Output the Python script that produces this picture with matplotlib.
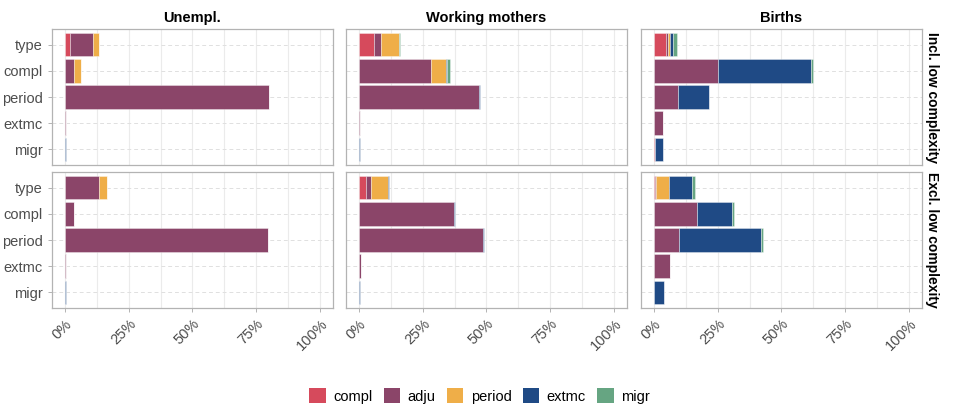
import numpy as np
import matplotlib as mpl
mpl.use('Agg')
import matplotlib.pyplot as plt
from matplotlib.patches import Patch

mpl.rcParams['font.family'] = 'Liberation Sans'

categories = ['type', 'compl', 'period', 'extmc', 'migr']
components = ['compl', 'adju', 'period', 'extmc', 'migr']
colors = ['#D64A5C', '#8B4569', '#EFAE48', '#1F4A85', '#66A582']
col_titles = ['Unempl.', 'Working mothers', 'Births']
row_titles = ['Incl. low complexity', 'Excl. low complexity']

# rows = categories, columns = components (compl, adju, period, extmc, migr), in %
unempl_incl = [[2.0, 9.1, 2.2, 0.0, 0.0],
               [0.0, 3.5, 3.0, 0.0, 0.0],
               [0.0, 79.8, 0.0, 0.0, 0.0],
               [0.0, 0.3, 0.0, 0.0, 0.0],
               [0.0, 0.0, 0.0, 0.3, 0.0]]
mothers_incl = [[6.1, 2.7, 6.8, 0.3, 0.3],
                [0.0, 28.4, 5.6, 0.7, 1.2],
                [0.0, 46.9, 0.0, 0.4, 0.3],
                [0.0, 0.5, 0.0, 0.0, 0.0],
                [0.0, 0.0, 0.0, 0.3, 0.0]]
births_incl = [[4.8, 0.8, 0.9, 0.9, 1.6],
               [0.0, 25.0, 0.2, 36.2, 0.9],
               [0.0, 9.5, 0.0, 12.0, 0.2],
               [0.0, 3.6, 0.0, 0.0, 0.0],
               [0.4, 0.0, 0.0, 3.4, 0.0]]
unempl_excl = [[0.0, 13.3, 3.4, 0.0, 0.0],
               [0.0, 3.7, 0.0, 0.0, 0.0],
               [0.0, 79.5, 0.0, 0.0, 0.0],
               [0.0, 0.3, 0.0, 0.0, 0.0],
               [0.0, 0.0, 0.0, 0.3, 0.0]]
mothers_excl = [[3.0, 1.6, 6.8, 0.4, 0.0],
                [0.0, 37.1, 0.0, 0.7, 0.0],
                [0.0, 48.6, 0.0, 0.4, 0.1],
                [0.0, 1.0, 0.0, 0.0, 0.0],
                [0.0, 0.0, 0.0, 0.3, 0.0]]
births_excl = [[0.4, 0.3, 5.3, 9.0, 1.0],
               [0.0, 17.0, 0.0, 13.7, 0.8],
               [0.0, 9.8, 0.0, 32.2, 0.7],
               [0.0, 6.3, 0.0, 0.0, 0.0],
               [0.0, 0.0, 0.0, 3.9, 0.0]]

panels = [[unempl_incl, mothers_incl, births_incl],
          [unempl_excl, mothers_excl, births_excl]]

W, H = 959, 419
fig = plt.figure(figsize=(W / 100, H / 100), dpi=100)

col_x = [52, 346, 641]
pw = 281
row_y = [29, 172]
ph = 136
grey = '#4D4D4D'

for r in range(2):
    for c in range(3):
        ax = fig.add_axes([col_x[c] / W, 1 - (row_y[r] + ph) / H, pw / W, ph / H])
        data = np.array(panels[r][c])
        y = np.arange(len(categories))
        left = np.zeros(len(categories))
        for k in range(len(components)):
            ax.barh(y, data[:, k], left=left, height=0.9, color=colors[k],
                    edgecolor=(1, 1, 1, 0.5), linewidth=0.5, zorder=3)
            left += data[:, k]
        ax.set_xlim(-5, 105)
        ax.set_ylim(len(categories) - 0.4, -0.6)
        ax.set_xticks([0, 25, 50, 75, 100])
        ax.set_xticks([12.5, 37.5, 62.5, 87.5], minor=True)
        ax.set_yticks(y)
        ax.grid(axis='x', which='both', color='#EBEBEB', linewidth=0.8, zorder=0)
        ax.grid(axis='y', color='#E0E0E0', linestyle=(0, (4, 3)), linewidth=0.7, zorder=0)
        ax.tick_params(which='minor', length=0)
        ax.tick_params(which='major', color='#B3B3B3', length=3, width=0.7,
                       labelcolor=grey, labelsize=10.5)
        for s in ax.spines.values():
            s.set_color('#B3B3B3')
            s.set_linewidth(0.9)
        if c == 0:
            ax.set_yticklabels(categories)
        else:
            ax.tick_params(axis='y', length=0, labelleft=False)
        if r == 1:
            ax.set_xticklabels(['0%', '25%', '50%', '75%', '100%'], rotation=45,
                               ha='right', va='top', rotation_mode='anchor')
        else:
            ax.tick_params(axis='x', length=0, labelbottom=False)
        if r == 0:
            ax.set_title(col_titles[c], fontsize=10.5, fontweight='bold', pad=5)
        if c == 2:
            ax.text(1.035, 0.5, row_titles[r], transform=ax.transAxes, rotation=-90,
                    ha='center', va='center', fontsize=10, fontweight='bold')

handles = [Patch(facecolor=col, edgecolor='none') for col in colors]
fig.legend(handles, components, loc='center', bbox_to_anchor=(0.5, 1 - 396 / H),
           ncol=5, frameon=False, fontsize=10.5, handlelength=1.15, handleheight=1.15,
           columnspacing=0.75, handletextpad=0.5)

fig.savefig('out.png', dpi=100)
